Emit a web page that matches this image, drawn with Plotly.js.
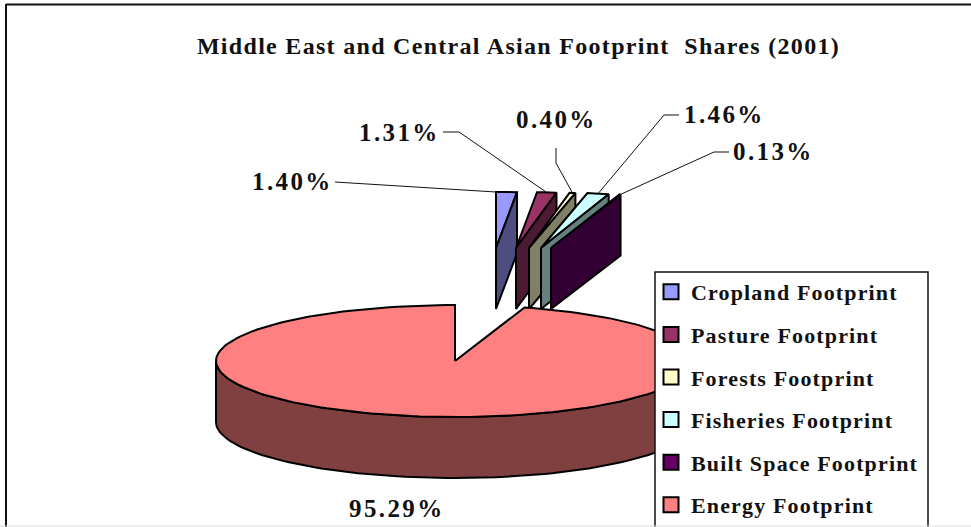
<!DOCTYPE html>
<html>
<head>
<meta charset="utf-8">
<script src="https://cdn.plot.ly/plotly-3.0.1.min.js"></script>
<style>
html,body{margin:0;padding:0;background:#fff;overflow:hidden}
.gtitle{letter-spacing:1.3px}
.legendtext{letter-spacing:1.15px}
.annotation-text{letter-spacing:2.4px}
</style>
</head>
<body>
<div id="chart" style="width:971px;height:527px"></div>
<script>
// ---- data ----
var categories = ["Cropland Footprint","Pasture Footprint","Forests Footprint","Fisheries Footprint","Built Space Footprint","Energy Footprint"];
var shares = [1.40,1.31,0.40,1.46,0.13,95.29];
var titleText = "Middle East and Central Asian Footprint  Shares (2001)";

// ---- styles ----
var topColors  = ["#9999FF","#993366","#FFFFCC","#CCFFFF","#660066","#FF8080"];
var sideColors = ["#4D4D80","#4D1A33","#808066","#668080","#330033","#804040"];

// ---- projection of the tilted pie ----
var cx = 455, cy = 361, rx = 239, ry = 56, depth = 61, outline = 2;
var shiftX = [41,61,74,86,96,0];     // explosion of each slice
var shiftY = [-113,-113,-113,-113,-113,0];
var font = "Liberation Serif";

function rad(d){return d*Math.PI/180;}
function px(d,ox){return cx+ox+rx*Math.sin(rad(d));}
function py(d,oy,dz){return cy+oy-ry*Math.cos(rad(d))+(dz||0);}

var traces = [];
function poly(name,xs,ys,color){
  traces.push({type:"scatter",mode:"lines",name:name,x:xs,y:ys,fill:"toself",fillcolor:color,
    line:{color:"#000",width:outline,shape:"linear"},showlegend:false,hoverinfo:"skip"});
}
function arc(a,b,ox,oy,dz){
  var xs=[],ys=[],n=Math.max(2,Math.ceil(Math.abs(b-a)/2));
  for(var i=0;i<=n;i++){var t=a+(b-a)*i/n;xs.push(px(t,ox));ys.push(py(t,oy,dz));}
  return {x:xs,y:ys};
}

// slice angles, clockwise from 12 o'clock
var total = shares.reduce(function(a,b){return a+b;},0), starts=[], ends=[], acc=0;
shares.forEach(function(v){starts.push(acc/total*360);acc+=v;ends.push(acc/total*360);});

// exploded small slices, back to front
for(var i=0;i<5;i++){
  var ox=shiftX[i],oy=shiftY[i],a=arc(starts[i],ends[i],ox,oy);
  poly(categories[i]+" top",[cx+ox].concat(a.x,[cx+ox]),[cy+oy].concat(a.y,[cy+oy]),topColors[i]);
  var ex=px(ends[i],ox),ey=py(ends[i],oy);
  poly(categories[i]+" side",[cx+ox,ex,ex,cx+ox,cx+ox],[cy+oy,ey,ey+depth,cy+oy+depth,cy+oy],sideColors[i]);
}
// the big slice
var front=arc(90,270,0,0),frontLow=arc(270,90,0,0,depth);
poly(categories[5]+" side",front.x.concat(frontLow.x,[front.x[0]]),front.y.concat(frontLow.y,[front.y[0]]),sideColors[5]);
var big=arc(starts[5],ends[5],0,0);
poly(categories[5]+" top",[cx].concat(big.x,[cx]),[cy].concat(big.y,[cy]),topColors[5]);

// legend keys
categories.forEach(function(c,i){
  traces.push({type:"scatter",mode:"markers",name:c,x:[null],y:[null],legendgroup:"g"+i,
    marker:{symbol:"square",size:15,color:topColors[i],line:{color:"#000",width:2}},hoverinfo:"skip"});
});

// data labels and leader lines
var labelX = [335,442,599,767,816,447];
var labelY = [181,132,119,114,151,508];
var elbows = [[[335,182]],[[443,132],[459,132]],[[556,148],[556,163]],[[679,115],[664,115]],[[729,152],[714,152]]];
var anchorAt = [0,0.5,0.5,0.5,1];
var annotations = shares.map(function(v,i){
  return {xref:"x",yref:"y",x:labelX[i],y:labelY[i],xanchor:"right",yanchor:"middle",showarrow:false,
    text:v.toFixed(2)+"%",font:{family:font,size:25,color:"#111",weight:700}};
});
elbows.forEach(function(e,i){
  var t=starts[i]+(ends[i]-starts[i])*anchorAt[i];
  var xs=e.map(function(p){return p[0];}),ys=e.map(function(p){return p[1];});
  xs.push(px(t,shiftX[i]));ys.push(py(t,shiftY[i]));
  traces.push({type:"scatter",mode:"lines",name:"leader "+i,x:xs,y:ys,
    line:{color:"#111",width:1},showlegend:false,hoverinfo:"skip"});
});

var layout = {
  width:971,height:527,margin:{l:0,r:0,t:0,b:0,pad:0,autoexpand:false},
  paper_bgcolor:"#fff",plot_bgcolor:"#fff",showlegend:true,
  title:{text:titleText,font:{family:font,size:24,color:"#111",weight:700},x:518.5/971,xanchor:"center",y:1-45.5/527,yanchor:"middle"},
  xaxis:{range:[0,971],visible:false,fixedrange:true},
  yaxis:{range:[527,0],visible:false,fixedrange:true},
  legend:{x:655/971,xanchor:"left",y:1-271/527,yanchor:"top",bgcolor:"rgba(0,0,0,0)",borderwidth:0,indentation:-4,
    font:{family:font,size:22,color:"#111",weight:700},tracegroupgap:11,traceorder:"grouped",itemclick:false,itemdoubleclick:false,
    entrywidthmode:"pixels",entrywidth:240},
  annotations:annotations,
  shapes:[
    {type:"rect",layer:"above",xref:"x",yref:"y",x0:655,x1:928,y0:272,y1:540,fillcolor:"#fff",line:{color:"#111",width:1.5}},
    {type:"line",xref:"paper",yref:"paper",x0:6/971,x1:6/971,y0:0,y1:1-4/527,line:{color:"#111",width:2}},
    {type:"line",xref:"paper",yref:"paper",x0:6/971,x1:1,y0:1-4.5/527,y1:1-4.5/527,line:{color:"#111",width:2}},
    {type:"line",layer:"above",xref:"paper",yref:"paper",x0:0,x1:1,y0:1-526/527,y1:1-526/527,line:{color:"#ddd",width:1}}
  ]
};
Plotly.newPlot("chart",traces,layout,{displayModeBar:false,staticPlot:true});
</script>
</body>
</html>
